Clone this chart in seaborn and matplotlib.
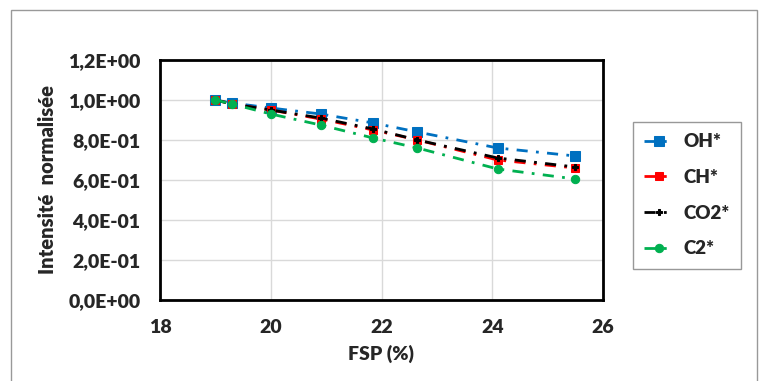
import numpy as np
import pandas as pd
import seaborn as sns
import matplotlib
matplotlib.use('Agg')
import matplotlib.pyplot as plt
from matplotlib.ticker import FuncFormatter
from matplotlib.patches import Rectangle

fsp = [19.0, 19.3, 20.0, 20.9, 21.85, 22.65, 24.1, 25.5]
oh = [1.0, 0.985, 0.96, 0.93, 0.885, 0.84, 0.76, 0.72]
ch = [1.0, 0.98, 0.95, 0.905, 0.85, 0.80, 0.70, 0.66]
co2 = [1.0, 0.98, 0.95, 0.91, 0.855, 0.80, 0.71, 0.665]
c2 = [1.0, 0.98, 0.93, 0.875, 0.81, 0.76, 0.655, 0.605]
series = ['OH*', 'CH*', 'CO2*', 'C2*']

sns.set_style('white')
plt.rcParams['font.family'] = ['Lato', 'DejaVu Sans']
plt.rcParams['font.weight'] = 'heavy'
plt.rcParams['axes.labelweight'] = 'heavy'

fig = plt.figure(figsize=(7.64, 3.81), dpi=100)
ax = fig.add_axes([160 / 764, 1 - 300 / 381, (603 - 160) / 764, (300 - 60) / 381])

# style per series: colour, marker, marker size
styles = {
    'OH*': ('#0070C0', 's', 7),
    'CH*': ('#FF0000', 's', 6),
    'CO2*': ('#000000', 'P', 5),
    'C2*': ('#00B050', 'o', 6),
}
values = {'OH*': oh, 'CH*': ch, 'CO2*': co2, 'C2*': c2}
dash = (0, (4, 3, 1, 3))

for name in series:
    col, mk, ms = styles[name]
    df = pd.DataFrame({'x': fsp, 'y': values[name]})
    sns.lineplot(data=df, x='x', y='y', ax=ax, color=col, marker=mk, markersize=ms,
                 markeredgecolor=col, linestyle=dash, linewidth=2, label=name)

ax.set_xlim(18, 26)
ax.set_ylim(0, 1.2)
ax.set_xticks([18, 20, 22, 24, 26])
ax.set_yticks(np.arange(0, 1.21, 0.2))
ax.yaxis.set_major_formatter(FuncFormatter(lambda v, p: f"{v:.1E}".replace('.', ',')))
ax.grid(True, color='#d9d9d9', linewidth=1)
for s in ax.spines.values():
    s.set_color('black')
    s.set_linewidth(2)
ax.tick_params(axis='both', labelsize=14, length=0, pad=14)
ax.set_xlabel('FSP (%)', fontsize=14, labelpad=6)
ax.set_ylabel('Intensité  normalisée', fontsize=14.5, labelpad=8)

leg = ax.legend(loc='upper left', bbox_to_anchor=((633 - 160) / 443, (300 - 122) / 240),
                borderaxespad=0, frameon=True, fancybox=False, edgecolor='#7f7f7f',
                fontsize=13.5, labelspacing=1.0, handlelength=1.6, handletextpad=0.5,
                borderpad=0.6)
leg.get_frame().set_linewidth(1)

# outer chart border
fig.patches.append(Rectangle((11 / 764, -0.05), (757 - 11) / 764, 1 - 10 / 381 + 0.05,
                             transform=fig.transFigure, fill=False, edgecolor='#999999',
                             linewidth=1))

plt.savefig('out.png', dpi=100)
